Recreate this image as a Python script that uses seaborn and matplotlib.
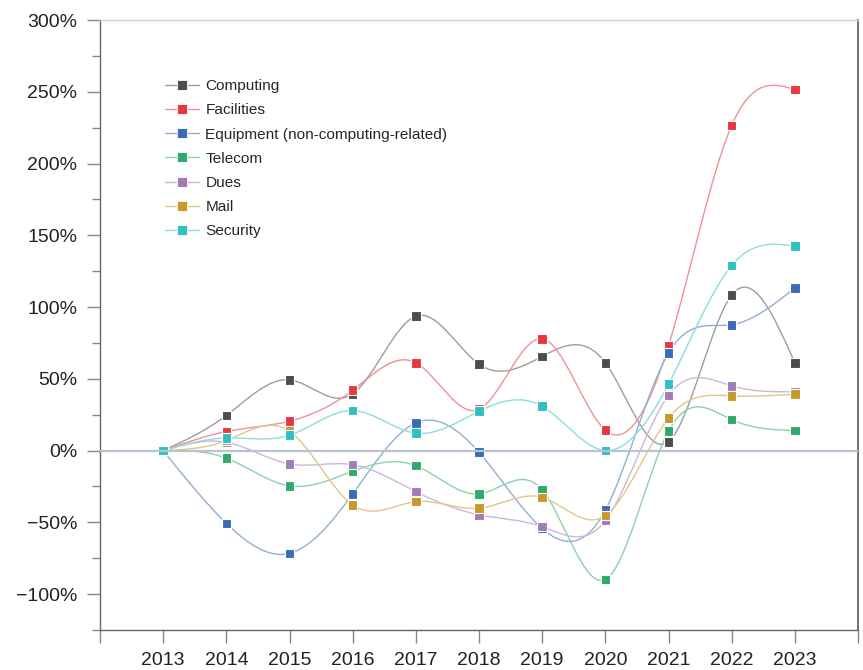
import numpy as np
import pandas as pd
import matplotlib
matplotlib.use("Agg")
import matplotlib.pyplot as plt
import seaborn as sns
from matplotlib.path import Path
from matplotlib.patches import PathPatch
from matplotlib.lines import Line2D
from matplotlib.ticker import MultipleLocator, FuncFormatter

# daten (prozentuale veränderung ggü. 2013)
years = list(range(2013, 2024))
computing = [0, 24.5, 49.3, 39.5, 93.7, 60.2, 65.6, 61.2, 6.2, 108.3, 61.2]
facilities = [0, 13.3, 20.5, 42.0, 61.2, 28.8, 77.9, 14.2, 73.0, 226.5, 251.6]
equipment = [0, -50.7, -71.6, -30.2, 19.3, -1.2, -54.3, -41.6, 67.9, 87.7, 113.3]
telecom = [0, -5.3, -24.6, -14.4, -10.5, -30.2, -27.4, -89.8, 13.5, 21.6, 14.0]
dues = [0, 5.8, -9.3, -9.8, -28.6, -44.7, -53.0, -48.8, 38.5, 45.1, 41.0]
mail = [0, 7.0, 13.5, -37.9, -35.6, -40.2, -32.6, -45.3, 22.6, 38.1, 39.3]
security = [0, 8.8, 10.7, 27.9, 12.1, 27.4, 30.9, 0.0, 46.2, 129.0, 142.5]

names = ["Computing", "Facilities", "Equipment (non-computing-related)",
         "Telecom", "Dues", "Mail", "Security"]
values = [computing, facilities, equipment, telecom, dues, mail, security]
colors = ["#4d4d4d", "#e8373f", "#3a6bb5", "#2eaa6a", "#a07cbb", "#c9982b", "#30bfc3"]

# long format für seaborn
df = pd.DataFrame({
    "Jahr": np.tile(years, len(names)),
    "Wert": np.concatenate(values),
    "Kategorie": np.repeat(names, len(years)),
})


def spline_path(xs, ys):
    # natürlicher kubischer spline als bezier-pfad (nur für die darstellung)
    xs = np.asarray(xs, float)
    ys = np.asarray(ys, float)
    n = len(xs)
    h = np.diff(xs)
    A = np.zeros((n, n))
    r = np.zeros(n)
    A[0, 0] = A[-1, -1] = 1
    for i in range(1, n - 1):
        A[i, i - 1] = h[i - 1]
        A[i, i] = 2 * (h[i - 1] + h[i])
        A[i, i + 1] = h[i]
        r[i] = 6 * ((ys[i + 1] - ys[i]) / h[i] - (ys[i] - ys[i - 1]) / h[i - 1])
    M = np.linalg.solve(A, r)
    verts = [(xs[0], ys[0])]
    codes = [Path.MOVETO]
    for i in range(n - 1):
        s = (ys[i + 1] - ys[i]) / h[i]
        d0 = s - h[i] * (2 * M[i] + M[i + 1]) / 6
        d1 = s + h[i] * (M[i] + 2 * M[i + 1]) / 6
        verts += [(xs[i] + h[i] / 3, ys[i] + d0 * h[i] / 3),
                  (xs[i + 1] - h[i] / 3, ys[i + 1] - d1 * h[i] / 3),
                  (xs[i + 1], ys[i + 1])]
        codes += [Path.CURVE4] * 3
    return Path(verts, codes)


def hell(c, f=0.45):
    rgb = np.array(matplotlib.colors.to_rgb(c))
    return tuple(rgb * (1 - f) + f)


sns.set_theme(style="ticks")
plt.rcParams["font.family"] = ["Liberation Sans", "DejaVu Sans"]

fig = plt.figure(figsize=(8.63, 6.70), dpi=100)
ax = fig.add_axes([100 / 863, 40 / 670, 758 / 863, 610 / 670])

# glatte linien
for name, vals, c in zip(names, values, colors):
    ax.add_patch(PathPatch(spline_path(years, vals), fill=False,
                           edgecolor=hell(c), lw=1.0, zorder=2))

# marker
sns.scatterplot(data=df, x="Jahr", y="Wert", hue="Kategorie", palette=colors,
                marker="s", s=48, linewidth=0.8, edgecolor="#ffffff",
                legend=False, ax=ax, zorder=3)

# nulllinie
ax.axhline(0, color="#bcc1d3", lw=1.6, zorder=4)

ax.set_xlim(2012, 2024)
ax.set_ylim(-125, 300)
ax.set_xticks(range(2012, 2025))
ax.set_xticklabels([""] + [str(y) for y in years] + [""])
ax.yaxis.set_major_locator(MultipleLocator(50))
ax.yaxis.set_minor_locator(MultipleLocator(25))
ax.yaxis.set_major_formatter(FuncFormatter(lambda v, p: f"{v:.0f}%".replace("-", "\u2212")))
ax.set_xlabel("")
ax.set_ylabel("")

ax.tick_params(axis="x", length=9, width=1, color="#888888", pad=7,
               labelsize=14, labelcolor="#222222")
ax.tick_params(axis="y", which="major", length=9.5, width=1, color="#888888",
               pad=7, labelsize=14, labelcolor="#222222")
ax.tick_params(axis="y", which="minor", length=5.8, width=1, color="#888888")

for side in ["left", "bottom"]:
    ax.spines[side].set_color("#666666")
    ax.spines[side].set_linewidth(1.0)
ax.spines["right"].set_color("#666666")
ax.spines["right"].set_linewidth(1.3)
ax.spines["top"].set_color("#d0d0d0")
ax.spines["top"].set_linewidth(1.0)

handles = [Line2D([], [], color=hell(c), lw=1.0, marker="s", markersize=7,
                  markerfacecolor=c, markeredgecolor="#ffffff", markeredgewidth=0.6)
           for c in colors]
ax.legend(handles, names, loc="upper left", bbox_to_anchor=(0.078, 0.913),
          frameon=False, fontsize=11.1, handlelength=2.2, handletextpad=0.4,
          labelspacing=0.66, borderaxespad=0)

plt.savefig("out.png", dpi=100)
